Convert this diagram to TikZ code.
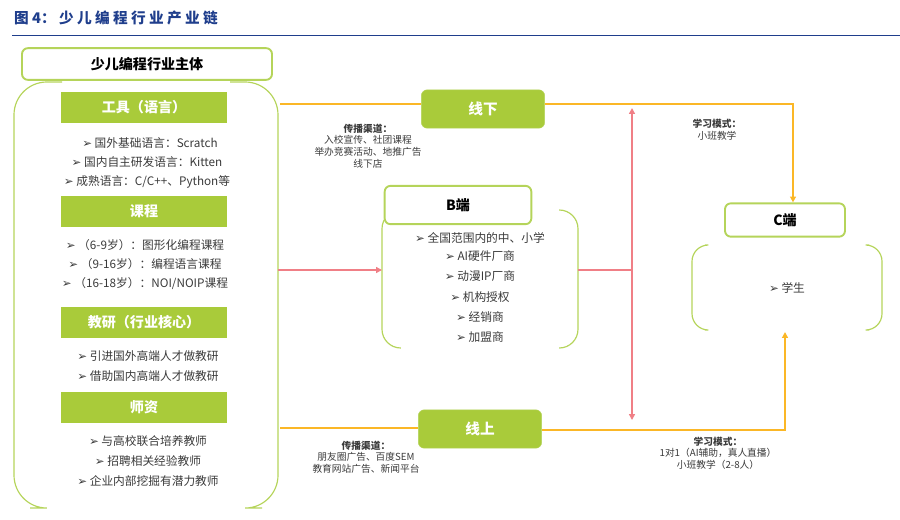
\documentclass[tikz,border=0pt]{standalone}
\usepackage{fontspec}
\setmainfont{Noto Sans CJK SC}
\newfontfamily\symfont{DejaVu Sans}
\newcommand{\bul}{{\symfont ➢}\ }
\usetikzlibrary{arrows.meta, calc}
\definecolor{lime}{HTML}{A9CB3A}
\definecolor{limeline}{HTML}{B5D45A}
\definecolor{pinkl}{HTML}{F07F86}
\definecolor{orangel}{HTML}{FBB726}
\definecolor{titleblue}{HTML}{1F3E8C}
\definecolor{txt}{HTML}{3A3A3A}
\tikzset{
    gbox/.style = {fill=lime, draw=none, text=white, font=\bfseries\fontsize{12}{14}\selectfont, minimum width=5.0cm, minimum height=0.93cm},
    pill/.style = {fill=lime, draw=limeline, rounded corners=5pt, text=white, font=\bfseries\fontsize{12.5}{14}\selectfont, minimum width=3.7cm, minimum height=1.15cm},
    hbox/.style = {draw=limeline, line width=1.6pt, fill=white, rounded corners=5pt, text=black, font=\bfseries\fontsize{12}{14}\selectfont},
    item/.style = {text=txt, font=\fontsize{10}{12}\selectfont, inner sep=0pt},
    note/.style = {text=txt, font=\fontsize{8.3}{10}\selectfont, align=center, inner sep=0pt},
    pk/.style = {draw=pinkl, line width=1.2pt},
    og/.style = {draw=orangel, line width=1.2pt},
}
\begin{document}
\begin{tikzpicture}[x=0.03cm, y=-0.03cm]
\useasboundingbox (0,0) rectangle (900,519);
% title
\node[anchor=west, text=titleblue, font=\bfseries\fontsize{12.5}{14}\selectfont, inner sep=0pt] (title) at (14,18) {图 4：\ 少 儿 编 程 行 业 产 业 链};
\draw[titleblue, line width=0.8pt] (12,35) -- (900,35);

% left panel
\draw[limeline, line width=1pt, rounded corners=28pt] (62,82) -- (14,82) -- (14,508) -- (30,508);
\draw[limeline, line width=1pt, rounded corners=28pt] (230,82) -- (278,82) -- (278,508) -- (262,508);
\node[hbox, minimum width=7.5cm, minimum height=0.95cm] (main) at (147,64) {少儿编程行业主体};

\node[gbox] (tool) at (144,107) {工具（语言）};
\node[item] (t1) at (150,143) {\bul 国外基础语言：Scratch};
\node[item] (t2) at (147,162) {\bul 国内自主研发语言：Kitten};
\node[item] (t3) at (147,182) {\bul 成熟语言：C/C++、Python等};

\node[gbox] (course) at (144,211) {课程};
\node[item] (c1) at (145,245) {\bul （6-9岁）：图形化编程课程};
\node[item] (c2) at (145,264) {\bul （9-16岁）：编程语言课程};
\node[item] (c3) at (145,284) {\bul （16-18岁）：NOI/NOIP课程};

\node[gbox] (res) at (144,322) {教研（行业核心）};
\node[item] (r1) at (148,356) {\bul 引进国外高端人才做教研};
\node[item] (r2) at (148,376) {\bul 借助国内高端人才做教研};

\node[gbox] (teach) at (144,407) {师资};
\node[item] (s1) at (148,441) {\bul 与高校联合培养教师};
\node[item] (s2) at (148,461) {\bul 招聘相关经验教师};
\node[item] (s3) at (148,481) {\bul 企业内部挖掘有潜力教师};

% B side
\draw[limeline, line width=1pt, rounded corners=16pt] (400,210) -- (382,210) -- (382,348) -- (400,348);
\draw[limeline, line width=1pt, rounded corners=16pt] (560,210) -- (578,210) -- (578,348) -- (560,348);
\node[hbox, minimum width=4.4cm, minimum height=1.15cm] (bend) at (458,205) {B端};
\node[item] (b1) at (480,238) {\bul 全国范围内的中、小学};
\node[item] (b2) at (480,256) {\bul AI硬件厂商};
\node[item] (b3) at (480,276) {\bul 动漫IP厂商};
\node[item] (b4) at (480,297) {\bul 机构授权};
\node[item] (b5) at (480,317) {\bul 经销商};
\node[item] (b6) at (480,337) {\bul 加盟商};

% C side
\draw[limeline, line width=1pt, rounded corners=14pt] (705,245) -- (692,245) -- (692,330) -- (705,330);
\draw[limeline, line width=1pt, rounded corners=14pt] (869,245) -- (882,245) -- (882,330) -- (869,330);
\node[hbox, minimum width=3.6cm, minimum height=1.0cm] (cend) at (785,220) {C端};
\node[item] (u1) at (787,288) {\bul 学生};

% channels
\node[pill] (off) at (483,109) {线下};
\node[pill] (on) at (480,429) {线上};

\node[note] (offn) at (368,146) {\textbf{传播渠道：}\\入校宣传、社团课程\\举办竞赛活动、地推广告\\线下店};
\node[note] (onn) at (366,457) {\textbf{传播渠道：}\\朋友圈广告、百度SEM\\教育网站广告、新闻平台};
\node[note] (offm) at (717,130) {\textbf{学习模式：}\\小班教学};
\node[note] (onm) at (718,453) {\textbf{学习模式：}\\1对1（AI辅助，真人直播）\\小班教学（2-8人）};

% connectors
\coordinate (lt) at (280,104);
\coordinate (lb) at (280,428);
\coordinate (lm) at (278,270);
\coordinate (rm) at (578,270);
\coordinate (pj) at (632,270);
\coordinate (pt) at (632,108);
\coordinate (pb) at (632,420);
\coordinate (ct) at (793,104);
\coordinate (cb) at (785,430);

\draw[og] (lt) -- (lt -| off.west);
\draw[og, -{Triangle[length=5pt,width=5pt]}] (off.east |- ct) -- (ct) -- (cend.north -| ct);
\draw[og] (lb) -- (lb -| on.west);
\draw[og, -{Triangle[length=5pt,width=5pt]}] (on.east |- cb) -- (cb) -- ($(cb)+(0,-98)$);

\draw[pk, -{Triangle[length=5pt,width=5pt]}] (lm) -- (lm -| 382,0);
\draw[pk] (rm) -- (pj);
\draw[pk, {Triangle[length=5pt,width=5pt]}-{Triangle[length=5pt,width=5pt]}] (pt) -- (pb);
\end{tikzpicture}
\end{document}
